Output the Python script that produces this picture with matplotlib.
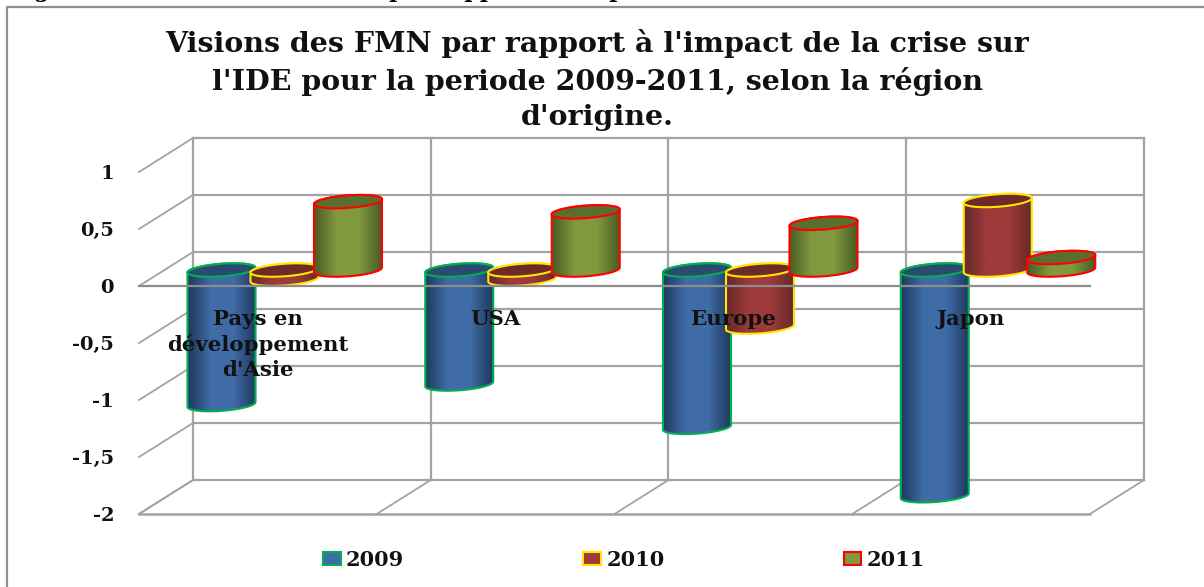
import numpy as np
import matplotlib
matplotlib.use("Agg")
import matplotlib.pyplot as plt
from matplotlib.patches import Patch, Polygon
from matplotlib.colors import LinearSegmentedColormap

regions = ["Pays en\ndéveloppement\nd'Asie", "USA", "Europe", "Japon"]
years = ["2009", "2010", "2011"]
v2009 = [-1.18, -1.0, -1.38, -1.98]
v2010 = [-0.08, -0.08, -0.5, 0.61]
v2011 = [0.6, 0.51, 0.41, 0.11]
yticks = [1, 0.5, 0, -0.5, -1, -1.5, -2]
ytick_labels = ["1", "0,5", "0", "-0,5", "-1", "-1,5", "-2"]

W, H = 1204, 587
# oblique look of the 3d box, in data units
depth_x, depth_y = 0.227, 0.298
bar_pos = [0.347, 0.612, 0.879]
bar_rx, bar_ry = 0.143, 0.055
bar_lift = 0.14
tilt = 0.15
grid = "#a3a3a3"

edge_cols = ["#00b050", "#ffe600", "#ff0000"]
dark_cols = ["#1f3a5f", "#672a2a", "#4a5c24"]
light_cols = ["#3f6ca6", "#9e3a3a", "#80993f"]
cap_cols = ["#2a4a72", "#6e2929", "#5a6f2e"]

fig = plt.figure(figsize=(W / 100, H / 100), dpi=100, facecolor="white")
ax = fig.add_axes([139 / W, 73 / H, 951 / W, 342 / H])
ax.patch.set_visible(False)
for s in ax.spines.values():
    s.set_visible(False)

label_font = dict(family="DejaVu Serif", fontweight="bold", color="#111111")


def ellipse(cx, cy, t):
    x = cx + bar_rx * np.cos(t)
    return x, cy + bar_ry * np.sin(t) + tilt * (x - cx)


def cylinder(cx, value, k, z):
    top = max(value, 0) + bar_lift
    bot = min(value, 0) + bar_lift
    # side of the cylinder: top half at top level, lower half at bottom level
    x1, y1 = ellipse(cx, top, np.linspace(0, np.pi, 40))
    x2, y2 = ellipse(cx, bot, np.linspace(np.pi, 2 * np.pi, 40))
    body = np.column_stack([np.r_[x1, x2], np.r_[y1, y2]])
    cmap = LinearSegmentedColormap.from_list("c", [dark_cols[k], light_cols[k], light_cols[k], dark_cols[k]])
    img = ax.imshow(np.linspace(0, 1, 64)[None, :], cmap=cmap, aspect="auto", zorder=z,
                    extent=[cx - bar_rx, cx + bar_rx, bot - 0.2, top + 0.2])
    outline = Polygon(body, closed=True, fill=False, ec=edge_cols[k], lw=1.5, zorder=z + 0.2, clip_on=False)
    ax.add_patch(outline)
    img.set_clip_box(fig.bbox)
    img.set_clip_path(Polygon(body, closed=True, transform=ax.transData))
    xc, yc = ellipse(cx, top, np.linspace(0, 2 * np.pi, 80))
    ax.add_patch(Polygon(np.column_stack([xc, yc]), closed=True, fc=cap_cols[k], ec=edge_cols[k],
                         lw=1.5, zorder=z + 0.3, clip_on=False))


# back wall, left wall and floor
for y in yticks:
    ax.plot([depth_x, 4 + depth_x], [y + depth_y] * 2, color=grid, lw=1.6, zorder=1, clip_on=False)
    ax.plot([0, depth_x], [y, y + depth_y], color=grid, lw=1.3, zorder=1, clip_on=False)
for i in range(5):
    ax.plot([i + depth_x] * 2, [-2 + depth_y, 1 + depth_y], color=grid, lw=1.6, zorder=1, clip_on=False)
    ax.plot([i, i + depth_x], [-2, -2 + depth_y], color=grid, lw=1.3, zorder=1, clip_on=False)
ax.plot([0, 4], [-2, -2], color=grid, lw=1.8, zorder=1, clip_on=False)

z = 2
for i in range(len(regions)):
    for k, vals in enumerate([v2009, v2010, v2011]):
        cylinder(i + bar_pos[k], vals[i], k, z)
        z += 1

ax.plot([0, 4], [0, 0], color="#8c8c8c", lw=1.6, zorder=z, clip_on=False)

ax.set_xlim(0, 4)
ax.set_ylim(-2, 1)
ax.set_xticks([])
ax.set_yticks(yticks, ytick_labels, fontsize=14, **label_font)
ax.tick_params(axis="y", length=0, pad=18)

for i, name in enumerate(regions):
    ax.text(i + 0.5, -0.2, name, ha="center", va="top", fontsize=15.3, zorder=z + 1,
            linespacing=1.3, **label_font)

fig.text(597 / W, 1 - 80 / H, "Visions des FMN par rapport à l'impact de la crise sur\n"
         "l'IDE pour la periode 2009-2011, selon la région\nd'origine.",
         ha="center", va="center", fontsize=20.5, family="DejaVu Serif", fontweight="bold",
         color="#111111", linespacing=1.38)

# caption above the chart, cut off by the top of the picture
fig.text(10 / W, 1 + 3 / H, "Figure", ha="left", va="baseline", fontsize=16,
         family="DejaVu Serif", fontweight="bold")
fig.text(389 / W, 1 + 3 / H, "par rapport à l'impact", ha="left", va="baseline", fontsize=16,
         family="DejaVu Serif", fontweight="bold")

# outer frame, open to the right and the bottom
fig.add_artist(plt.Line2D([7 / W, 7 / W, 1], [0, 1 - 6.5 / H, 1 - 6.5 / H], color="#8f8f8f", lw=1.6))

handles = [Patch(fc=light_cols[k], ec=edge_cols[k], lw=1.5) for k in range(3)]
leg = fig.legend(handles, years, loc="center", bbox_to_anchor=(624 / W, 1 - 560 / H), ncol=3,
                 frameon=False, handlelength=0.85, handleheight=0.55, handletextpad=0.25,
                 columnspacing=8.6, prop=dict(family="DejaVu Serif", weight="bold", size=15))
for t in leg.get_texts():
    t.set_color("#111111")

fig.savefig("out.png", dpi=100)
